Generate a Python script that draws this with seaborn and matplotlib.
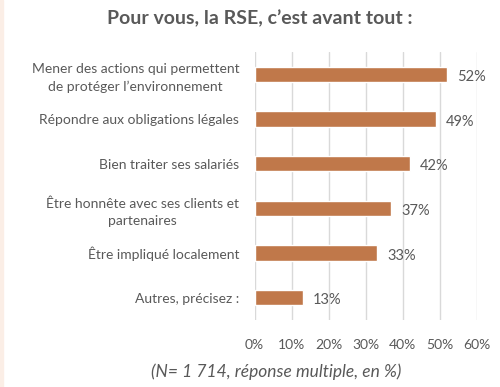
import matplotlib

matplotlib.use("Agg")

import matplotlib.pyplot as plt
import pandas as pd
import seaborn as sns
from matplotlib.patches import Rectangle
from matplotlib.ticker import FuncFormatter, MultipleLocator

categories = [
    "Mener des actions qui permettent\nde protéger l’environnement",
    "Répondre aux obligations légales",
    "Bien traiter ses salariés",
    "Être honnête avec ses clients et\npartenaires",
    "Être impliqué localement",
    "Autres, précisez :",
]
values = [52, 49, 42, 37, 33, 13]

title = "Pour vous, la RSE, c’est avant tout :"
footnote = "(N= 1 714, réponse multiple, en %)"

BAR_COLOR = "#C0784A"
TEXT_COLOR = "#595959"
GRID_COLOR = "#D9D9D9"

sns.set_theme(style="white")
plt.rcParams["font.family"] = ["Lato", "DejaVu Sans"]

df = pd.DataFrame({"Item": categories, "Value": values})

fig = plt.figure(figsize=(5.0, 3.87), dpi=100)
ax = fig.add_axes([0.509, 1 - 320 / 387, 0.444, 268 / 387])

sns.barplot(data=df, x="Value", y="Item", color=BAR_COLOR, width=0.35,
            saturation=1, ax=ax)

ax.set_xlim(0, 60)
ax.xaxis.set_major_locator(MultipleLocator(10))
ax.xaxis.set_major_formatter(FuncFormatter(lambda v, _: f"{v:.0f}%"))
ax.grid(axis="x", color=GRID_COLOR, linewidth=1)
ax.set_axisbelow(True)
for side in ["top", "right", "bottom", "left"]:
    ax.spines[side].set_visible(False)
ax.set_xlabel("")
ax.set_ylabel("")
ax.tick_params(axis="x", colors=TEXT_COLOR, labelsize=10, length=0, pad=14)
ax.tick_params(axis="y", colors=TEXT_COLOR, labelsize=10, length=0, pad=11)
for label in ax.get_yticklabels():
    label.set_horizontalalignment("right")
    label.set_multialignment("center")
    label.set_linespacing(1.55)

for i, v in enumerate(values):
    ax.text(v + 2.8, i + 0.06, f"{v}%", va="center", ha="left",
            fontsize=10.5, color=TEXT_COLOR)

fig.text(0.52, 1 - 18 / 387, title, ha="center", va="center",
         fontsize=14, fontweight="bold", color=TEXT_COLOR)
fig.text(0.552, 1 - 372 / 387, footnote, ha="center", va="center",
         fontsize=12.5, style="italic", color=TEXT_COLOR)

fig.patches.append(Rectangle((0, 0), 3 / 500, 1, transform=fig.transFigure,
                             color="#FBEEE6", zorder=0))

fig.savefig("out.png", dpi=100)
plt.close(fig)
